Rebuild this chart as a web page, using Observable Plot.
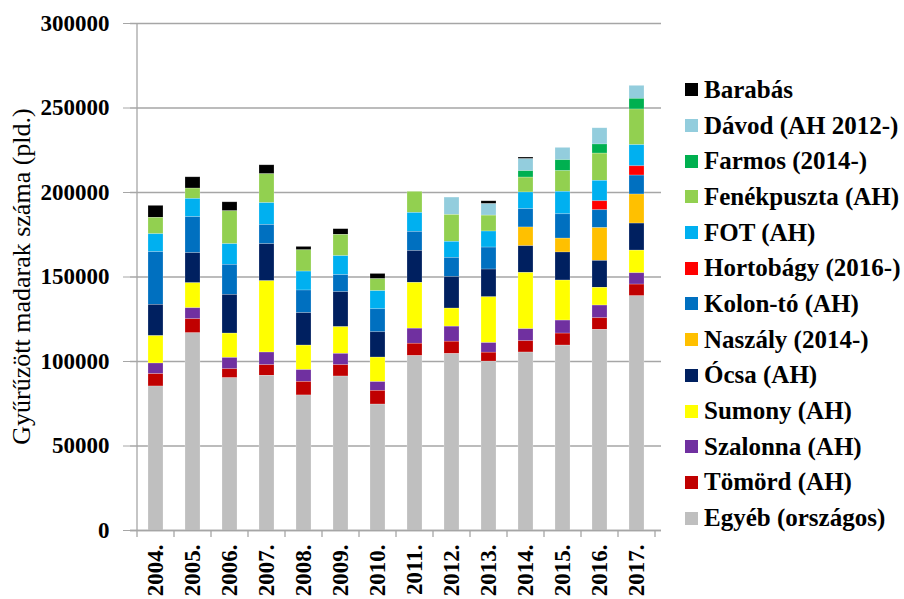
<!DOCTYPE html>
<html><head><meta charset="utf-8">
<script src="https://cdn.jsdelivr.net/npm/d3@7"></script>
<script src="https://cdn.jsdelivr.net/npm/@observablehq/plot@0.6"></script>
<style>
body{margin:0;background:#fff;}
#wrap{position:relative;width:904px;height:599px;font-family:"Liberation Serif","DejaVu Serif","Noto Serif",serif;}
#legend{position:absolute;left:685px;top:72px;}
.item{display:flex;align-items:center;height:35.7px;font-weight:bold;font-size:25px;white-space:nowrap;color:#000;}
.sw{width:13px;height:13px;margin-right:6px;flex:none;}
</style></head><body><div id="wrap"></div>
<script>
const years = ["2004.","2005.","2006.","2007.","2008.","2009.","2010.","2011.","2012.","2013.","2014.","2015.","2016.","2017."];
const yTicks = [0, 50000, 100000, 150000, 200000, 250000, 300000];

const egyeb      = [85200,116700,90100,91500,79900,91100,74500,103200,104400,99900,105300,109400,118700,138600];
const tomord     = [7300,8300,5300,6300,8000,6700,8100,7300,7300,5300,6700,7100,6900,6900];
const szalonna   = [6300,6500,6700,7500,7000,6700,5200,8900,8900,5700,7100,7700,7500,6700];
const sumony     = [16200,14800,14400,42200,14500,15800,14500,27100,10700,27100,33300,23700,10500,13400];
const ocsa       = [18500,17800,22900,21900,19200,20700,15000,18900,18700,16400,15800,16600,15900,16000];
const naszaly    = [0,0,0,0,0,0,0,0,0,0,11100,8200,19400,17200];
const kolonto    = [31200,21300,17800,11400,13400,10100,13600,11300,11300,13000,10800,14400,10600,11200];
const hortobagy  = [0,0,0,0,0,0,0,0,0,0,0,0,5300,5500];
const fot        = [10600,10800,12200,12900,11200,11200,10700,11200,9500,9500,9900,13300,12100,12500];
const fenekpuszta= [9700,6100,19500,17100,12600,12600,7100,12500,15900,9400,8800,12200,16100,21100];
const farmos     = [0,0,0,0,0,0,0,0,0,0,3800,6500,5400,6300];
const davod      = [0,0,0,0,0,0,0,0,10300,6800,7100,7300,9600,7700];
const barabas    = [7100,6700,5300,5300,2000,3400,3100,0,0,1700,1000,0,0,0];

// legend order (top to bottom)
const seriesNames = ["Barabás","Dávod (AH 2012-)","Farmos (2014-)","Fenékpuszta (AH)","FOT (AH)","Hortobágy (2016-)","Kolon-tó (AH)","Naszály (2014-)","Ócsa (AH)","Sumony (AH)","Szalonna (AH)","Tömörd (AH)","Egyéb (országos)"];
const seriesColors = ["#000000","#93CDDD","#00B050","#92D050","#00B0F0","#FF0000","#0070C0","#FFC000","#002060","#FFFF00","#7030A0","#C00000","#BFBFBF"];
const seriesValues = [barabas,davod,farmos,fenekpuszta,fot,hortobagy,kolonto,naszaly,ocsa,sumony,szalonna,tomord,egyeb];

const stackOrder = seriesNames.slice().reverse();
const table = [];
seriesNames.forEach((s, i) => {
  years.forEach((y, j) => table.push({year: y, series: s, value: seriesValues[i][j]}));
});

const FONT = '"Liberation Serif","DejaVu Serif","Noto Serif",serif';
const plot = Plot.plot({
  width: 904, height: 599,
  marginLeft: 130, marginRight: 243, marginTop: 23, marginBottom: 69,
  style: {fontFamily: FONT, fontSize: "23px", fontWeight: "bold", color: "#000", background: "#fff", overflow: "visible"},
  x: {domain: years, paddingInner: 0.6, paddingOuter: 0.3, label: null},
  y: {domain: [0, 300000], label: null},
  color: {domain: seriesNames, range: seriesColors},
  marks: [
    Plot.gridY(yTicks, {stroke: "#a6a6a6", strokeOpacity: 1, strokeWidth: 1.3}),
    Plot.barY(table, {x: "year", y: "value", fill: "series", order: stackOrder, stroke: "#ffffff", strokeOpacity: 0.35, strokeWidth: 0.6}),
    Plot.ruleY([0], {stroke: "#a6a6a6", strokeWidth: 1.3}),
    Plot.axisY(yTicks, {tickSize: 7, tickPadding: 14, tickFormat: d => String(d), stroke: "#a6a6a6", label: null}),
    Plot.axisX({tickSize: 0, tickRotate: -90, tickPadding: 14, label: null})
  ]
});

const wrap = document.getElementById("wrap");
wrap.appendChild(plot);

// y-axis line, boundary ticks, axis title
const xs = plot.scale("x"), ys = plot.scale("y");
const svg = d3.select(plot);
const y0 = ys.apply(0), yTop = ys.apply(300000);
const bounds = years.map(y => xs.apply(y) + xs.bandwidth / 2 - xs.step / 2);
bounds.push(bounds[bounds.length - 1] + xs.step);
svg.append("line").attr("x1", bounds[0]).attr("x2", bounds[0]).attr("y1", y0).attr("y2", yTop)
  .attr("stroke", "#a6a6a6").attr("stroke-width", 1.3);
svg.append("g").selectAll("line").data(bounds).join("line")
  .attr("x1", d => d).attr("x2", d => d).attr("y1", y0).attr("y2", y0 + 7)
  .attr("stroke", "#a6a6a6").attr("stroke-width", 1.3);
svg.append("text")
  .attr("transform", `translate(30,${(y0 + yTop) / 2}) rotate(-90)`)
  .attr("text-anchor", "middle")
  .style("font-weight", "normal").style("font-size", "26px")
  .text("Gyűrűzött madarak száma (pld.)");

// legend
const legend = document.createElement("div");
legend.id = "legend";
seriesNames.forEach((s, i) => {
  const it = document.createElement("div");
  it.className = "item";
  const sw = document.createElement("span");
  sw.className = "sw";
  sw.style.background = seriesColors[i];
  it.appendChild(sw);
  it.appendChild(document.createTextNode(s));
  legend.appendChild(it);
});
wrap.appendChild(legend);
</script>
</body></html>
